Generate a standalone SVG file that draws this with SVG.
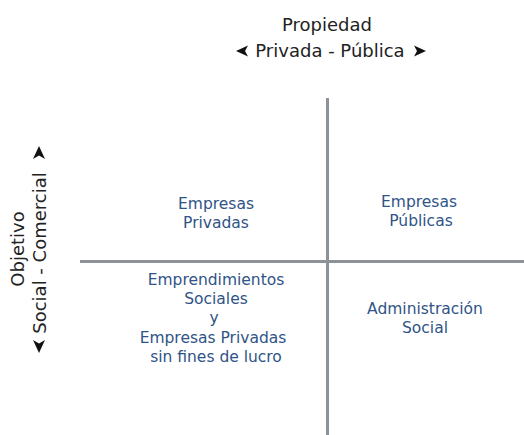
<svg xmlns="http://www.w3.org/2000/svg" width="524" height="435" viewBox="0 0 524 435">
<style>
.ax{font-family:"DejaVu Sans",sans-serif;font-size:18px;fill:#222;text-anchor:middle}
.q{font-family:"DejaVu Sans",sans-serif;font-size:15.5px;fill:#2f5487;text-anchor:middle}
.ln{stroke:#8c9298;stroke-width:3;fill:none}
.ah{fill:#111}
</style>
<rect width="524" height="435" fill="#fff"/>
<g id="connectors">
<line class="ln" x1="80" y1="261.5" x2="524" y2="261.5"/>
<line class="ln" x1="327.5" y1="98" x2="327.5" y2="435"/>
</g>
<g id="axis-propiedad">
<text class="ax" x="327" y="31">Propiedad</text>
<text class="ax" x="330" y="57">Privada - Pública</text>
<path class="ah" d="M236,51 L248,45.5 L245,51 L248,56.5 Z"/>
<path class="ah" d="M426,51 L414,45.5 L417,51 L414,56.5 Z"/>
</g>
<g id="axis-objetivo">
<text class="ax" transform="translate(24,249) rotate(-90)">Objetivo</text>
<text class="ax" transform="translate(46,253) rotate(-90)">Social - Comercial</text>
<path class="ah" d="M39,146 L33,159 L39,155.5 L45,159 Z"/>
<path class="ah" d="M39,353 L33,340 L39,343.5 L45,340 Z"/>
</g>
<g id="empresas-privadas">
<text class="q" x="216" y="209">Empresas</text>
<text class="q" x="216" y="228">Privadas</text>
</g>
<g id="empresas-publicas">
<text class="q" x="419" y="207">Empresas</text>
<text class="q" x="421" y="226">Públicas</text>
</g>
<g id="emprendimientos">
<text class="q" x="216" y="285">Emprendimientos</text>
<text class="q" x="216" y="304">Sociales</text>
<text class="q" x="214" y="323">y</text>
<text class="q" x="213" y="343">Empresas Privadas</text>
<text class="q" x="216" y="362">sin fines de lucro</text>
</g>
<g id="administracion-social">
<text class="q" x="425" y="314">Administración</text>
<text class="q" x="425" y="333">Social</text>
</g>
</svg>
